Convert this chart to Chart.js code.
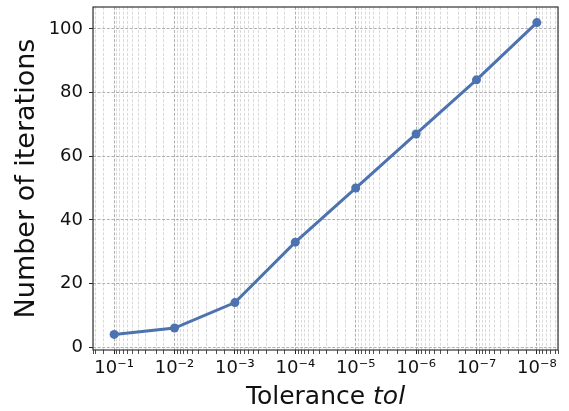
<!DOCTYPE html>
<html>
<head>
<meta charset="utf-8">
<style>
  html, body { margin: 0; padding: 0; background: #fff; }
  #wrap { width: 569px; height: 411px; }
</style>
<script src="https://cdn.jsdelivr.net/npm/chart.js@4/dist/chart.umd.min.js"></script>
</head>
<body>
<div id="wrap"><canvas id="chartIterations" width="569" height="411"></canvas></div>
<script>
// Iteration counts for each stopping tolerance
const tolerances = [1e-1, 1e-2, 1e-3, 1e-4, 1e-5, 1e-6, 1e-7, 1e-8];
const iterations = [4, 6, 14, 33, 50, 67, 84, 102];
const yTicks = [0, 20, 40, 60, 80, 100];
const supDigits = { '-': '⁻', '0': '⁰', '1': '¹', '2': '²', '3': '³', '4': '⁴', '5': '⁵', '6': '⁶', '7': '⁷', '8': '⁸', '9': '⁹' };

const FONT = "'DejaVu Sans', sans-serif";
const LINE_BLUE = '#4c72b0';
const DASH = [3, 1.6];

function isDecade(v) {
  const e = Math.log10(v);
  return Math.abs(e - Math.round(e)) < 1e-6;
}

function powerLabel(v) {
  const e = String(Math.round(Math.log10(v)));
  return '10' + e.split('').map(c => supDigits[c]).join('');
}

// Box around the plotting area plus the mixed-style x axis title
const framePlugin = {
  id: 'frame',
  afterDraw(chart) {
    const { ctx, chartArea: a } = chart;
    ctx.save();
    ctx.strokeStyle = '#333';
    ctx.lineWidth = 1.2;
    ctx.strokeRect(a.left, a.top, a.right - a.left, a.bottom - a.top);

    const plain = 'Tolerance ';
    const ital = 'tol';
    ctx.fillStyle = '#111';
    ctx.textBaseline = 'alphabetic';
    ctx.font = `25px ${FONT}`;
    const w1 = ctx.measureText(plain).width;
    ctx.font = `italic 25px ${FONT}`;
    const w2 = ctx.measureText(ital).width;
    const cx = (a.left + a.right) / 2;
    const x0 = cx - (w1 + w2) / 2;
    const y = 404;
    ctx.font = `25px ${FONT}`;
    ctx.fillText(plain, x0, y);
    ctx.font = `italic 25px ${FONT}`;
    ctx.fillText(ital, x0 + w1, y);
    ctx.restore();
  }
};

new Chart(document.getElementById('chartIterations'), {
  type: 'line',
  data: {
    datasets: [{
      data: tolerances.map((t, i) => ({ x: t, y: iterations[i] })),
      borderColor: LINE_BLUE,
      backgroundColor: LINE_BLUE,
      borderWidth: 3,
      pointRadius: 4.5,
      pointBorderWidth: 0,
      pointBackgroundColor: LINE_BLUE,
      tension: 0
    }]
  },
  options: {
    responsive: false,
    animation: false,
    layout: { padding: { top: 7, right: 11, left: 0, bottom: 0 } },
    plugins: {
      legend: { display: false },
      tooltip: { enabled: false }
    },
    scales: {
      x: {
        type: 'logarithmic',
        reverse: true,
        min: Math.pow(10, -8.35),
        max: Math.pow(10, -0.65),
        afterFit: (scale) => {
          scale.height = 61;
          scale.paddingLeft = 0;
          scale.paddingRight = 0;
        },
        border: { display: false, dash: DASH },
        grid: {
          drawTicks: true,
          tickLength: 4,
          tickColor: '#222',
          color: (c) => (c.tick && isDecade(c.tick.value)) ? '#b0b0b0' : '#cfcfcf',
          lineWidth: (c) => (c.tick && isDecade(c.tick.value)) ? 1 : 0.8
        },
        ticks: {
          autoSkip: false,
          maxRotation: 0,
          padding: 4,
          color: '#111',
          font: { family: FONT, size: 18 },
          callback: (v) => isDecade(v) ? powerLabel(v) : ''
        },
        title: { display: false }
      },
      y: {
        min: -0.9,
        max: 106.9,
        afterFit: (scale) => {
          scale.width = 93;
          scale.paddingTop = 0;
          scale.paddingBottom = 0;
        },
        afterBuildTicks: (scale) => { scale.ticks = yTicks.map(v => ({ value: v })); },
        border: { display: false, dash: DASH },
        grid: {
          drawTicks: true,
          tickLength: 4,
          tickColor: '#222',
          color: '#b0b0b0',
          lineWidth: 1
        },
        ticks: {
          padding: 6,
          color: '#111',
          font: { family: FONT, size: 18 }
        },
        title: {
          display: true,
          text: 'Number of iterations',
          color: '#111',
          font: { family: FONT, size: 27 },
          padding: { top: 11, bottom: 2 }
        }
      }
    }
  },
  plugins: [framePlugin]
});
</script>
</body>
</html>
